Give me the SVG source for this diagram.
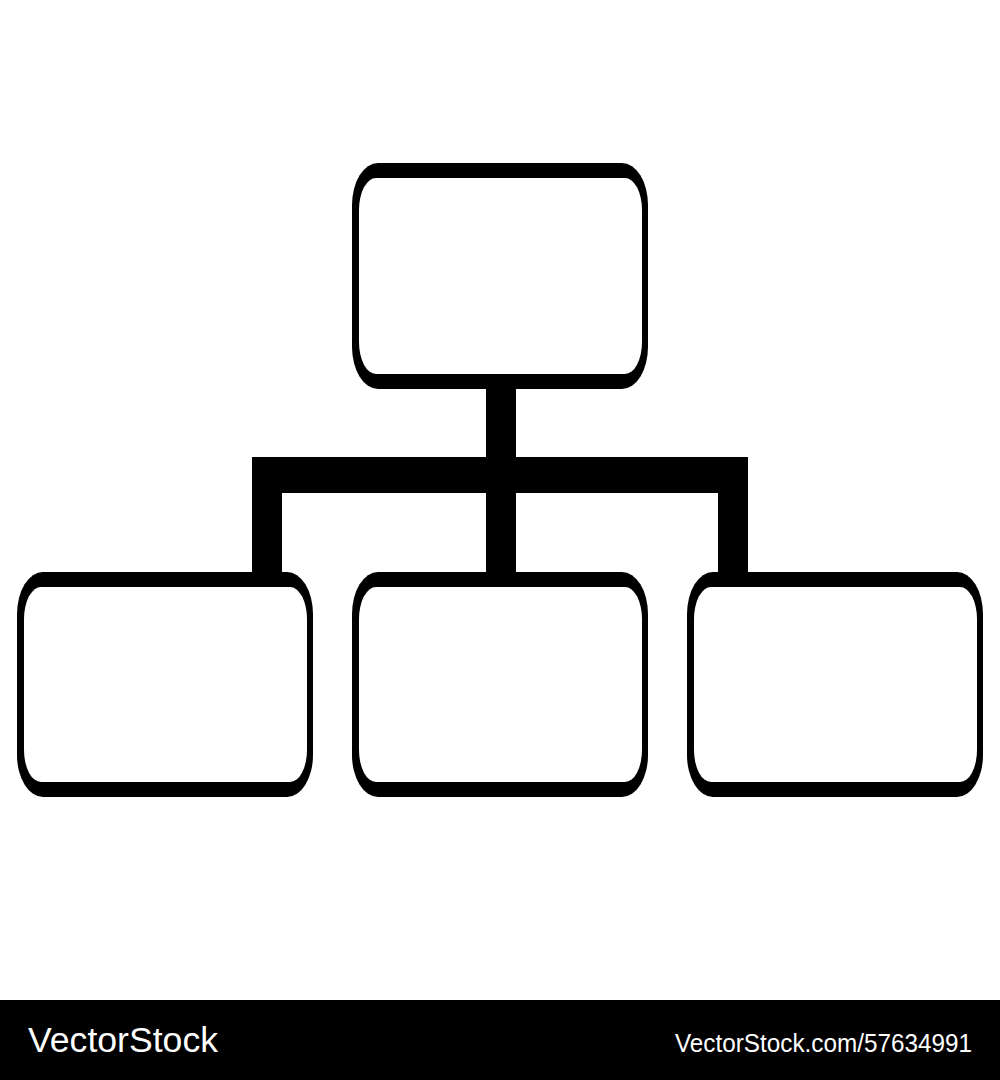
<svg xmlns="http://www.w3.org/2000/svg" width="1000" height="1080" viewBox="0 0 1000 1080">
<style>
.outer{fill:#000}
.inner{fill:#fff}
.conn{fill:#000}
.wm{fill:#fff;font-family:"Liberation Sans",Arial,sans-serif}
</style>
<rect x="0" y="0" width="1000" height="1080" fill="#fff"/>
<g id="connectors">
<rect class="conn" x="486" y="380" width="30" height="200"/>
<rect class="conn" x="252" y="457" width="496" height="36"/>
<rect class="conn" x="252" y="457" width="30" height="123"/>
<rect class="conn" x="718" y="457" width="30" height="123"/>
</g>
<g id="node-top">
<rect class="outer" x="352" y="163" width="296" height="226" rx="26" ry="42"/>
<rect class="inner" x="359" y="178" width="283" height="196" rx="17" ry="32"/>
</g>
<g id="node-left">
<rect class="outer" x="17" y="572" width="296" height="225" rx="26" ry="42"/>
<rect class="inner" x="24" y="587" width="283" height="195" rx="17" ry="32"/>
</g>
<g id="node-middle">
<rect class="outer" x="352" y="572" width="296" height="225" rx="26" ry="42"/>
<rect class="inner" x="359" y="587" width="283" height="195" rx="17" ry="32"/>
</g>
<g id="node-right">
<rect class="outer" x="687" y="572" width="296" height="225" rx="26" ry="42"/>
<rect class="inner" x="694" y="587" width="283" height="195" rx="17" ry="32"/>
</g>
<g id="footer">
<rect x="0" y="1000" width="1000" height="80" fill="#000"/>
<text class="wm" x="28" y="1052" font-size="35" textLength="190" lengthAdjust="spacingAndGlyphs">VectorStock</text>
<text class="wm" x="675" y="1052" font-size="26.5" textLength="297" lengthAdjust="spacingAndGlyphs">VectorStock.com/57634991</text>
</g>
</svg>
